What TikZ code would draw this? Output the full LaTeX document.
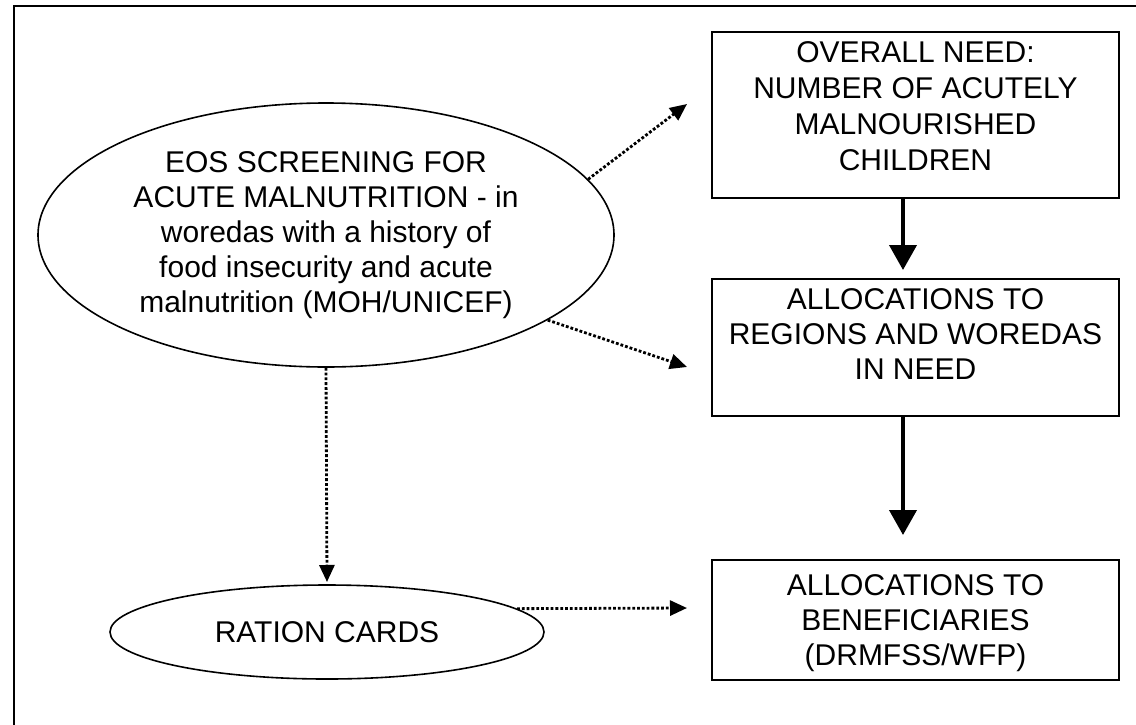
\documentclass[tikz,border=0pt]{standalone}
\usepackage{fontspec}
\setmainfont{Liberation Sans}
\usetikzlibrary{shapes.geometric,arrows.meta}
\begin{document}
\begin{tikzpicture}[x=0.5pt,y=-0.5pt,
  every node/.style={font=\fontsize{15pt}{17.5pt}\selectfont},
  stepbox/.style={draw,line width=1pt,inner sep=0pt,minimum width=203.5pt},
  oval/.style={draw,ellipse,line width=0.8pt,inner sep=0pt,align=center},
  boxtext/.style={anchor=north,inner sep=0pt,align=center},
  flow/.style={line width=2pt,-{Triangle[length=12.5pt,width=13.5pt]}},
  feed/.style={line width=1.4pt,dash pattern=on 1.4pt off 1pt,
    -{Triangle[length=8.5pt,width=7.5pt]}}]
\clip (0,0) rectangle (1136,724);
% outer frame
\draw[line width=1pt] (14,740) -- (14,6) -- (1150,6);

% screening oval and ration cards
\node[oval,minimum width=288pt,minimum height=132pt] (eos) at (326,235)
  {EOS SCREENING FOR\\ACUTE MALNUTRITION - in\\woredas with a history of\\food insecurity and acute\\malnutrition (MOH/UNICEF)};
\node[oval,minimum width=217pt,minimum height=47pt] (rc) at (327,632) {RATION CARDS};

% allocation chain
\node[stepbox,minimum height=83pt] (need) at (915.5,115) {};
\node[boxtext,font=\fontsize{15pt}{18pt}\selectfont] (needtxt) at ([yshift=-5pt]need.north)
  {OVERALL NEED:\\NUMBER OF ACUTELY\\MALNOURISHED\\CHILDREN};
\node[stepbox,minimum height=68.5pt] (reg) at (915.5,347.5) {};
\node[boxtext] (regtxt) at ([yshift=-5pt]reg.north)
  {ALLOCATIONS TO\\REGIONS AND WOREDAS\\IN NEED};
\node[stepbox,minimum height=60pt] (ben) at (915.5,620) {};
\node[boxtext] (bentxt) at ([yshift=-7.5pt]ben.north)
  {ALLOCATIONS TO\\BENEFICIARIES\\(DRMFSS/WFP)};

% free arrow ends
\coordinate (toneed) at (687,104);
\coordinate (toreg) at (687,367);
\coordinate (torc) at (327,582);
\coordinate (toben) at (687,608);
\coordinate (regin) at (903,270);
\coordinate (benin) at (903,535);

% connectors
\draw[flow] ([xshift=-6.25pt]need.south) -- (regin);
\draw[flow] ([xshift=-6.25pt]reg.south) -- (benin);
\draw[feed] (eos.12) -- (toneed);
\draw[feed] (eos.-21) -- (toreg);
\draw[feed] (eos.south) -- (torc);
\draw[feed] (rc.7) -- (toben);
\end{tikzpicture}
\end{document}
